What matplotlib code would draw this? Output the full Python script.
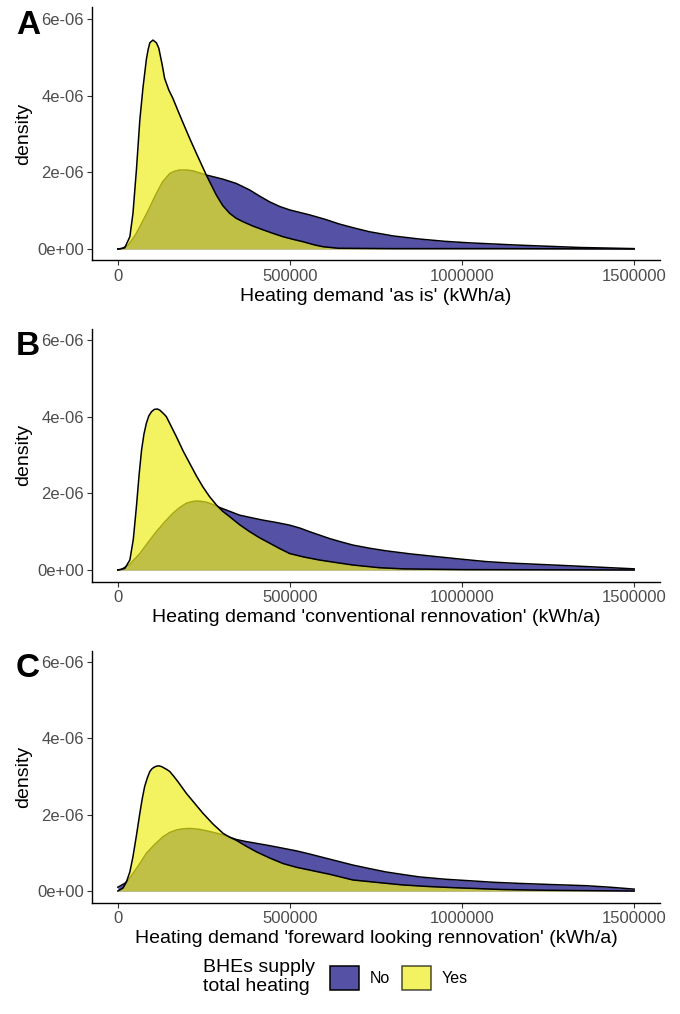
import numpy as np
import matplotlib
matplotlib.use("Agg")
import matplotlib.pyplot as plt
from matplotlib.patches import Patch

plt.rcParams['font.family'] = ['Liberation Sans', 'DejaVu Sans']

# Heating demand in kWh/a (thousands), density in 1e-06
# Panel A: 'as is'
a_yes_x = [0, 20, 35, 44, 54, 64, 73, 83, 88, 93, 102, 112, 119, 124, 129, 136, 148, 160,
           175, 190, 209, 228, 257, 286, 305, 325, 344, 364, 392, 422, 450, 480, 510, 538,
           570, 596, 640, 800, 1100, 1500]
a_yes_y = [0, 0.03, 0.32, 0.93, 2.06, 3.37, 4.2, 4.95, 5.2, 5.38, 5.45, 5.38, 5.24, 5.02,
           4.8, 4.45, 4.15, 3.93, 3.6, 3.28, 2.88, 2.50, 1.93, 1.41, 1.13, 0.93, 0.8, 0.71,
           0.6, 0.50, 0.41, 0.32, 0.25, 0.19, 0.11, 0.06, 0.02, 0.01, 0.01, 0.0]
a_no_x = [0, 10, 30, 50, 64, 88, 112, 130, 151, 165, 180, 200, 218, 257, 306, 344, 383,
          410, 441, 470, 499, 530, 557, 600, 644, 690, 731, 800, 876, 950, 1021, 1166,
          1340, 1500]
a_no_y = [0, 0.0, 0.1, 0.35, 0.58, 1.0, 1.45, 1.75, 1.97, 2.03, 2.06, 2.06, 2.04, 1.93,
          1.82, 1.71, 1.54, 1.39, 1.23, 1.11, 1.02, 0.95, 0.89, 0.78, 0.65, 0.54, 0.45,
          0.34, 0.26, 0.2, 0.16, 0.10, 0.04, 0.01]

# Panel B: 'conventional rennovation'
b_yes_x = [0, 20, 35, 45, 54, 62, 69, 76, 83, 90, 98, 106, 115, 122, 128, 135, 141, 155,
           170, 190, 209, 228, 247, 266, 286, 305, 325, 354, 383, 410, 441, 470, 499, 540,
           586, 630, 683, 760, 828, 1000, 1500]
b_yes_y = [0, 0.04, 0.26, 0.8, 1.65, 2.5, 3.13, 3.55, 3.83, 4.02, 4.13, 4.19, 4.2, 4.17,
           4.12, 4.06, 4.0, 3.75, 3.48, 3.1, 2.78, 2.46, 2.17, 1.92, 1.70, 1.53, 1.39, 1.18,
           1.0, 0.85, 0.70, 0.56, 0.43, 0.34, 0.26, 0.2, 0.13, 0.06, 0.03, 0.01, 0.0]
b_no_x = [0, 10, 35, 64, 88, 112, 136, 160, 180, 199, 214, 228, 243, 257, 276, 296, 325,
          354, 390, 422, 460, 499, 530, 557, 586, 615, 650, 683, 730, 779, 850, 924, 1000,
          1069, 1140, 1215, 1290, 1360, 1430, 1500]
b_no_y = [0, 0.01, 0.15, 0.43, 0.72, 1.0, 1.25, 1.48, 1.63, 1.74, 1.78, 1.80, 1.79, 1.77,
          1.71, 1.63, 1.53, 1.43, 1.36, 1.30, 1.24, 1.17, 1.09, 1.0, 0.91, 0.82, 0.73,
          0.65, 0.57, 0.50, 0.42, 0.35, 0.28, 0.22, 0.18, 0.15, 0.12, 0.09, 0.06, 0.03]

# Panel C: 'foreward looking rennovation'
c_yes_x = [0, 15, 25, 35, 44, 54, 64, 71, 78, 86, 93, 99, 105, 112, 119, 127, 135, 143,
           151, 163, 175, 187, 199, 223, 247, 276, 306, 325, 344, 372, 402, 440, 480, 520,
           557, 615, 683, 760, 828, 900, 972, 1117, 1244, 1500]
c_yes_y = [0, 0.08, 0.24, 0.5, 0.9, 1.45, 2.04, 2.42, 2.74, 2.97, 3.13, 3.2, 3.24, 3.27,
           3.28, 3.26, 3.22, 3.18, 3.13, 3.0, 2.86, 2.71, 2.56, 2.3, 2.04, 1.76, 1.51, 1.41,
           1.33, 1.18, 1.03, 0.87, 0.72, 0.62, 0.55, 0.44, 0.29, 0.22, 0.16, 0.12, 0.09,
           0.04, 0.02, 0.0]
c_no_x = [0, 10, 20, 30, 44, 64, 83, 107, 131, 150, 170, 190, 209, 233, 257, 280, 306,
          344, 370, 402, 440, 480, 520, 557, 600, 644, 683, 730, 779, 830, 876, 950, 1021,
          1090, 1166, 1260, 1360, 1430, 1500]
c_no_y = [0.1, 0.15, 0.2, 0.28, 0.46, 0.72, 0.99, 1.22, 1.42, 1.53, 1.60, 1.63, 1.64,
          1.62, 1.58, 1.53, 1.47, 1.35, 1.30, 1.25, 1.19, 1.12, 1.05, 0.97, 0.87, 0.77,
          0.68, 0.59, 0.50, 0.43, 0.37, 0.31, 0.27, 0.23, 0.20, 0.17, 0.14, 0.10, 0.05]

panels = [
    ("A", "Heating demand 'as is' (kWh/a)", a_no_x, a_no_y, a_yes_x, a_yes_y),
    ("B", "Heating demand 'conventional rennovation' (kWh/a)", b_no_x, b_no_y, b_yes_x, b_yes_y),
    ("C", "Heating demand 'foreward looking rennovation' (kWh/a)", c_no_x, c_no_y, c_yes_x, c_yes_y),
]

x_ticks = [0, 500000, 1000000, 1500000]
x_tick_labels = ["0", "500000", "1000000", "1500000"]
y_ticks = [0, 2e-6, 4e-6, 6e-6]
y_tick_labels = ["0e+00", "2e-06", "4e-06", "6e-06"]

col_no = "#5552a6"
col_yes = "#eeee1e"
alpha_yes = 0.7

fig = plt.figure(figsize=(6.8, 10.14), dpi=100)
W, H = 680, 1014
left, right = 92, 660
tops = [7.5, 328.5, 650.5]
bottoms = [260.5, 581.5, 902.5]

for (tag, xlab, nx, ny, yx, yy), top, bot in zip(panels, tops, bottoms):
    ax = fig.add_axes([left / W, 1 - bot / H, (right - left) / W, (bot - top) / H])
    nx = np.array(nx) * 1000
    ny = np.array(ny) * 1e-6
    yx = np.array(yx) * 1000
    yy = np.array(yy) * 1e-6

    # "No" first, then the semi-transparent "Yes" on top (like geom_density)
    ax.fill_between(nx, 0, ny, color=col_no, linewidth=0, zorder=1)
    ax.plot(nx, ny, color="black", lw=1.1, zorder=2, solid_joinstyle="round")
    ax.fill_between(yx, 0, yy, color=col_yes, alpha=alpha_yes, linewidth=0, zorder=3)
    ax.plot(yx, yy, color="black", lw=1.1, zorder=4, solid_joinstyle="round")

    ax.set_xlim(-75000, 1575000)
    ax.set_ylim(-0.3e-6, 6.3e-6)
    ax.set_xticks(x_ticks)
    ax.set_xticklabels(x_tick_labels)
    ax.set_yticks(y_ticks)
    ax.set_yticklabels(y_tick_labels)
    ax.tick_params(axis="both", labelsize=12, labelcolor="#4d4d4d", color="#333333",
                   length=3.3, width=0.8, pad=2.5)

    for s in ["top", "right"]:
        ax.spines[s].set_visible(False)
    for s in ["left", "bottom"]:
        ax.spines[s].set_linewidth(1.0)

    ax.set_xlabel(xlab, fontsize=14, labelpad=3)
    ax.set_ylabel("density", fontsize=14, labelpad=4)

    fig.text(28 / W, 1 - (top + 18) / H, tag, fontsize=24, fontweight="bold",
             ha="center", va="center")

# legend at the bottom
fig.text(203 / W, 1 - 977 / H, "BHEs supply\ntotal heating", fontsize=14,
         ha="left", va="center", linespacing=1.1)
handles = [Patch(facecolor=col_no, edgecolor="black", linewidth=1.1),
           Patch(facecolor=col_yes, alpha=alpha_yes, edgecolor="black", linewidth=1.1)]
leg = fig.legend(handles, ["No", "Yes"], ncol=2, frameon=False, fontsize=11.5,
                 loc="center left", bbox_to_anchor=(330 / W, 1 - 978 / H),
                 handlelength=1.8, handleheight=2.0, handletextpad=0.7,
                 columnspacing=0.75, borderpad=0, borderaxespad=0)
for h in leg.legend_handles:
    h.set_edgecolor("black")

fig.savefig("out.png", dpi=100)
